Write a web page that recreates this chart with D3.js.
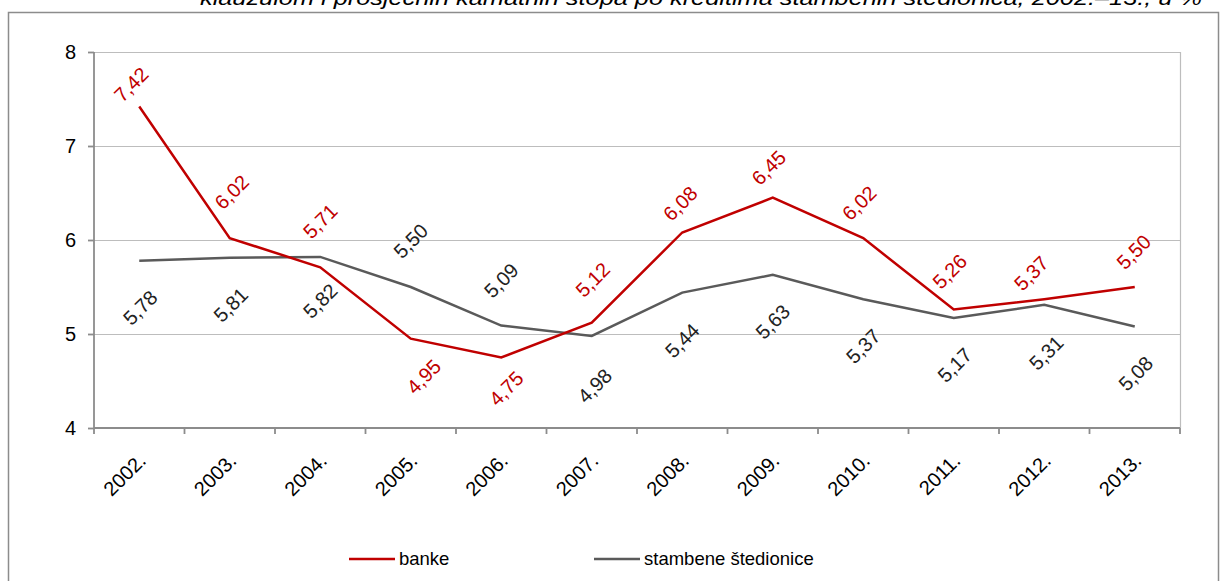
<!DOCTYPE html>
<html>
<head>
<meta charset="utf-8">
<script src="https://cdn.jsdelivr.net/npm/d3@7"></script>
<style>
  html, body { margin: 0; padding: 0; background: #fff; }
  svg { display: block; font-family: "Liberation Sans", Arial, sans-serif; }
</style>
</head>
<body>
<svg id="chart" width="1220" height="581"></svg>
<script>
// ---- data ----
const categories = ["2002.", "2003.", "2004.", "2005.", "2006.", "2007.", "2008.", "2009.", "2010.", "2011.", "2012.", "2013."];
const banke = [7.42, 6.02, 5.71, 4.95, 4.75, 5.12, 6.08, 6.45, 6.02, 5.26, 5.37, 5.50];
const stambene = [5.78, 5.81, 5.82, 5.50, 5.09, 4.98, 5.44, 5.63, 5.37, 5.17, 5.31, 5.08];
const yTicks = [4, 5, 6, 7, 8];
const seriesNames = ["banke", "stambene štedionice"];
const titleText = "klauzulom i prosječnih kamatnih stopa po kreditima stambenih štedionica, 2002.–13., u %";

// ---- layout (label offsets in px, separate from data) ----
const bankeLabelOffset = [[-8,-22],[2,-46],[0,-46],[13,38],[5,31],[1,-43],[-2,-29],[-4,-30],[-4,-35],[-4,-38],[-13,-26],[-1,-35]];
const stambeneLabelOffset = [[1,47],[1,47],[0,44],[0,-46],[0,-45],[3,50],[0,48],[0,47],[0,47],[1,47],[2,48],[1,47]];

const svg = d3.select("#chart");
const pLeft = 94, pRight = 1180, pTop = 52, pBottom = 428;
const red = "#C00000", gray = "#5A5A5A";

// frame
svg.append("rect").attr("x", 8.5).attr("y", 12.5).attr("width", 1210).attr("height", 600)
  .attr("fill", "none").attr("stroke", "#8C8C8C").attr("stroke-width", 1.5);

// title (cut off at top, as in the source)
svg.append("text").attr("x", 1202).attr("y", 5).attr("text-anchor", "end")
  .attr("font-style", "italic").attr("font-size", 20).attr("fill", "#000")
  .attr("textLength", 1002).attr("lengthAdjust", "spacingAndGlyphs")
  .text(titleText);

const x = d3.scaleBand().domain(categories).range([pLeft, pRight]).padding(0);
const y = d3.scaleLinear().domain([4, 8]).range([pBottom, pTop]);
const cx = d => x(d) + x.bandwidth() / 2;

// gridlines
svg.append("g").selectAll("line").data(yTicks.filter(t => t > 4)).join("line")
  .attr("x1", pLeft).attr("x2", pRight)
  .attr("y1", d => Math.round(y(d)) + 0.5).attr("y2", d => Math.round(y(d)) + 0.5)
  .attr("stroke", "#BDBDBD").attr("stroke-width", 1.2);
// right edge of plot area
svg.append("line").attr("x1", pRight + 0.5).attr("x2", pRight + 0.5).attr("y1", pTop).attr("y2", pBottom)
  .attr("stroke", "#BDBDBD").attr("stroke-width", 1.2);

// y axis
const yAxis = d3.axisLeft(y).tickValues(yTicks).tickSize(6).tickPadding(12).tickFormat(d3.format("d"));
const gy = svg.append("g").attr("transform", `translate(${pLeft},0)`).call(yAxis);
gy.selectAll("path, line").attr("stroke", "#8C8C8C").attr("stroke-width", 1.8);
gy.select(".domain").attr("d", `M0,${pTop}V${pBottom}`);
gy.selectAll("text").attr("font-size", 20).attr("fill", "#000").attr("font-family", "Liberation Sans, Arial, sans-serif");

// x axis with ticks at category boundaries
const gx = svg.append("g").attr("transform", `translate(0,${pBottom})`);
gx.append("line").attr("x1", pLeft).attr("x2", pRight).attr("y1", 0).attr("y2", 0)
  .attr("stroke", "#8C8C8C").attr("stroke-width", 1.8);
const bounds = categories.map(c => x(c)).concat([pRight]);
gx.selectAll("line.tick").data(bounds).join("line").attr("class", "tick")
  .attr("x1", d => d).attr("x2", d => d).attr("y1", 0).attr("y2", 6)
  .attr("stroke", "#8C8C8C").attr("stroke-width", 1.8);
gx.selectAll("text").data(categories).join("text")
  .attr("transform", d => `translate(${cx(d) + 3},${29}) rotate(-45)`)
  .attr("text-anchor", "end").attr("dy", "0.35em")
  .attr("font-size", 20).attr("fill", "#000")
  .text(d => d);

// lines
const line = d3.line().x((d, i) => cx(categories[i])).y(d => y(d));
svg.append("path").datum(stambene).attr("d", line).attr("fill", "none")
  .attr("stroke", gray).attr("stroke-width", 2.5).attr("stroke-linejoin", "miter");
svg.append("path").datum(banke).attr("d", line).attr("fill", "none")
  .attr("stroke", red).attr("stroke-width", 2.5).attr("stroke-linejoin", "miter");

// data labels
const fmt = v => d3.format(".2f")(v).replace(".", ",");
function labels(data, offs, color) {
  svg.append("g").selectAll("text").data(data).join("text")
    .attr("transform", (d, i) => `translate(${cx(categories[i]) + offs[i][0]},${y(d) + offs[i][1]}) rotate(-45)`)
    .attr("text-anchor", "middle").attr("dy", "0.35em")
    .attr("font-size", 20).attr("fill", color)
    .text(d => fmt(d));
}
labels(banke, bankeLabelOffset, red);
labels(stambene, stambeneLabelOffset, "#222");

// legend
const legend = svg.append("g");
const legendItems = [{name: seriesNames[0], color: red, x: 349}, {name: seriesNames[1], color: gray, x: 594}];
legendItems.forEach(it => {
  legend.append("line").attr("x1", it.x).attr("x2", it.x + 46).attr("y1", 559).attr("y2", 559)
    .attr("stroke", it.color).attr("stroke-width", 2.5);
  legend.append("text").attr("x", it.x + 50).attr("y", 565).attr("font-size", 18.5).attr("fill", "#000").text(it.name);
});
</script>
</body>
</html>
